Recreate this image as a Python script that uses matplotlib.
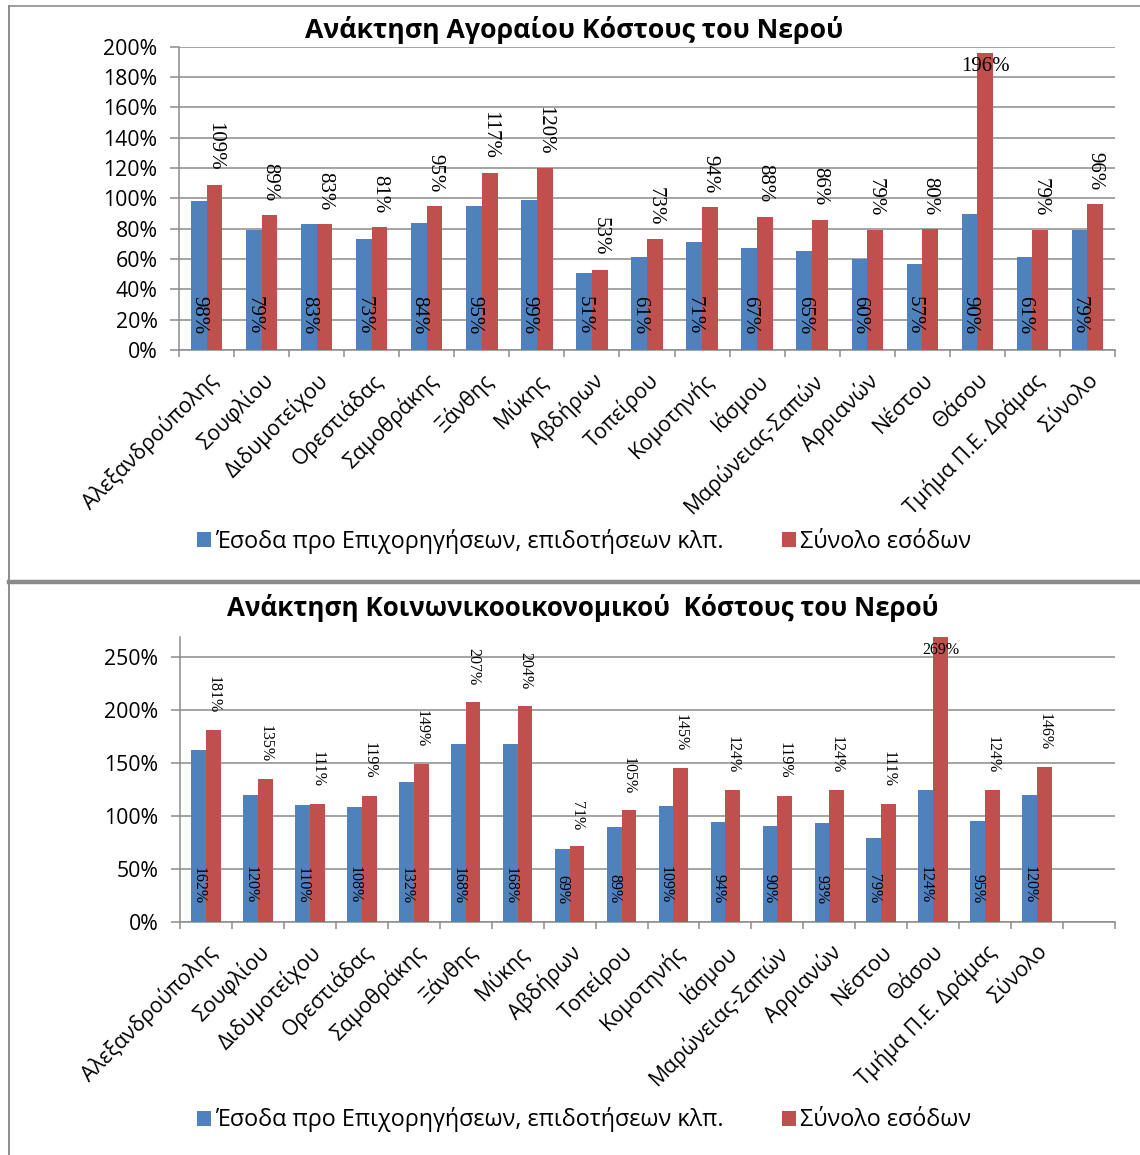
import matplotlib
matplotlib.use("Agg")
import matplotlib.pyplot as plt
from matplotlib.lines import Line2D
from matplotlib.ticker import FuncFormatter, MultipleLocator
import numpy as np

plt.rcParams['font.family'] = ['Open Sans', 'DejaVu Sans']

# Water service areas (shared by both charts)
areas = ["Αλεξανδρούπολης", "Σουφλίου", "Διδυμοτείχου", "Ορεστιάδας", "Σαμοθράκης",
         "Ξάνθης", "Μύκης", "Αβδήρων", "Τοπείρου", "Κομοτηνής", "Ιάσμου",
         "Μαρώνειας-Σαπών", "Αρριανών", "Νέστου", "Θάσου", "Τμήμα Π.Ε. Δράμας", "Σύνολο"]

series_names = ["Έσοδα προ Επιχορηγήσεων, επιδοτήσεων κλπ.", "Σύνολο εσόδων"]

# Financial cost recovery (%)
fin_before_subsidies = [98, 79, 83, 73, 84, 95, 99, 51, 61, 71, 67, 65, 60, 57, 90, 61, 79]
fin_total_revenue = [109, 89, 83, 81, 95, 117, 120, 53, 73, 94, 88, 86, 79, 80, 196, 79, 96]

# Socio-economic cost recovery (%)
soc_before_subsidies = [162, 120, 110, 108, 132, 168, 168, 69, 89, 109, 94, 90, 93, 79, 124, 95, 120]
soc_total_revenue = [181, 135, 111, 119, 149, 207, 204, 71, 105, 145, 124, 119, 124, 111, 269, 124, 146]

title_top = "Ανάκτηση Αγοραίου Κόστους του Νερού"
title_bottom = "Ανάκτηση Κοινωνικοοικονομικού  Κόστους του Νερού"

BLUE = "#4F81BD"
RED = "#C0504D"
GRID = "#8C8C8C"
SERIF = ['Liberation Serif', 'DejaVu Serif']

fig = plt.figure(figsize=(11.40, 11.55), dpi=100)

def px(x0, y0, x1, y1):
    W, H = 1140.0, 1155.0
    return [x0 / W, 1 - y1 / H, (x1 - x0) / W, (y1 - y0) / H]


def draw_panel(rect, blue_vals, red_vals, ymax, ystep, nslots, lab_size,
               red_gap, blue_gap, inside_drop):
    ax = fig.add_axes(rect)
    n = len(areas)
    x = np.arange(n)
    w = 0.285
    ax.bar(x - w / 2, np.array(blue_vals) / 100, w, color=BLUE, zorder=3,
           label=series_names[0])
    ax.bar(x + w / 2, np.array(red_vals) / 100, w, color=RED, zorder=3,
           label=series_names[1])

    ax.set_xlim(-0.5, nslots - 0.5)
    ax.set_ylim(0, ymax)
    ax.yaxis.set_major_locator(MultipleLocator(ystep))
    ax.yaxis.set_major_formatter(FuncFormatter(lambda v, p: f"{v * 100:.0f}%"))
    ax.grid(axis='y', color=GRID, linewidth=1.1, zorder=0)
    for s in ('top', 'right'):
        ax.spines[s].set_visible(False)
    for s in ('left', 'bottom'):
        ax.spines[s].set_color(GRID)
        ax.spines[s].set_linewidth(1.1)
    ax.tick_params(axis='y', length=6.5, width=1.1, color=GRID, pad=9,
                   labelsize=15.3, labelcolor='black')

    # category labels at slot centres, tick marks at slot boundaries
    ax.set_xticks(x)
    ax.set_xticklabels(areas, rotation=45, ha='right', rotation_mode='anchor',
                       fontsize=15.3)
    ax.tick_params(axis='x', which='major', length=0, pad=14)
    ax.set_xticks(np.arange(nslots + 1) - 0.5, minor=True)
    ax.tick_params(axis='x', which='minor', length=5, width=1.1, color=GRID)

    for i in range(n):
        r = red_vals[i] / 100
        ax.annotate(f"{blue_vals[i]}%", xy=(x[i] - w / 2, 0),
                    xytext=(0, blue_gap), textcoords='offset points',
                    rotation=-90, ha='center', va='bottom', fontsize=lab_size,
                    family=SERIF, zorder=5)
        if r > 0.9 * ymax:
            ax.annotate(f"{red_vals[i]}%", xy=(x[i] + w / 2, r),
                        xytext=(0, -inside_drop), textcoords='offset points',
                        ha='center', va='top', fontsize=lab_size,
                        family=SERIF, zorder=5)
        else:
            ax.annotate(f"{red_vals[i]}%", xy=(x[i] + w / 2, r),
                        xytext=(0, red_gap), textcoords='offset points',
                        rotation=-90, ha='center', va='bottom', fontsize=lab_size,
                        family=SERIF, zorder=5)
    return ax


ax1 = draw_panel(px(179, 46.7, 1115, 350), fin_before_subsidies, fin_total_revenue,
                 2.0, 0.2, 17, 15, 10, 11, 3)
ax2 = draw_panel(px(180, 636.7, 1115, 921.7), soc_before_subsidies, soc_total_revenue,
                 2.69, 0.5, 18, 11.5, 12, 13, 3.5)

fig.text(574 / 1140, 1 - 30 / 1155, title_top, ha='center', va='center',
         fontsize=19.2, fontweight='bold')
fig.text(583 / 1140, 1 - 608 / 1155, title_bottom, ha='center', va='center',
         fontsize=18.7, fontweight='bold')

for ax, ly in ((ax1, 541), (ax2, 1120)):
    h, l = ax.get_legend_handles_labels()
    fig.legend(h, l, loc='center left', bbox_to_anchor=(197 / 1140, 1 - ly / 1155),
               ncol=2, frameon=False, fontsize=16.8, handlelength=0.62,
               handleheight=0.62, handletextpad=0.15, columnspacing=2.5,
               borderaxespad=0, borderpad=0)

# panel frames
def hline(y, x0, x1, lw, color="#8C8C8C"):
    fig.add_artist(Line2D([x0 / 1140, x1 / 1140], [1 - y / 1155, 1 - y / 1155],
                          color=color, linewidth=lw, transform=fig.transFigure))

def vline(x, y0, y1, lw, color="#8C8C8C"):
    fig.add_artist(Line2D([x / 1140, x / 1140], [1 - y0 / 1155, 1 - y1 / 1155],
                          color=color, linewidth=lw, transform=fig.transFigure))

hline(5.5, 9, 1140, 1.2)
vline(9, 5.5, 1155, 1.4)
hline(582.3, 9, 1140, 3.2, "#8A8A8A")

fig.savefig("out.png", dpi=100, facecolor='white')
